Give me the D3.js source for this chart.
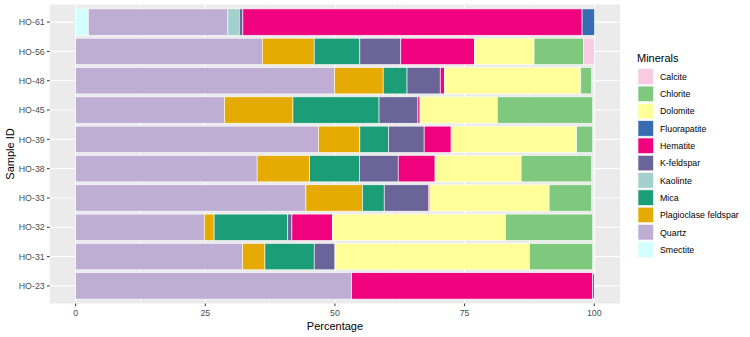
<!DOCTYPE html>
<html><head><meta charset="utf-8">
<script src="https://cdn.jsdelivr.net/npm/d3@7"></script>
<style>body{margin:0;background:#fff;}text{font-family:"Liberation Sans",Arial,sans-serif;}</style>
</head><body><svg id="c" width="750" height="337"></svg>
<script>
const samples = ["HO-61","HO-56","HO-48","HO-45","HO-39","HO-38","HO-33","HO-32","HO-31","HO-23"];
const minerals = ["Calcite","Chlorite","Dolomite","Fluorapatite","Hematite","K-feldspar","Kaolinte","Mica","Plagioclase feldspar","Quartz","Smectite"];
const colors = ["#F9CBE2","#7FC97F","#FFFF99","#386CB0","#F0027F","#6A6499","#A3CFCC","#1B9E77","#E6AB02","#BEAED4","#D2FFFF"];
// values per sample in order of minerals
const Calcite      = [0,   2.1, 0,   0,   0,   0,   0,   0,   0,   0];
const Chlorite     = [0,   9.5, 2.1, 18.4,3.1, 13.6,8.2, 16.8,12.2,0];
const Dolomite     = [0,   11.5,26.3,14.9,24.2,16.6,23.0,33.4,37.5,0];
const Fluorapatite = [2.4, 0,   0,   0,   0,   0,   0,   0,   0,   0.3];
const Hematite     = [65.4,14.2,0.8, 0.4, 5.2, 7.1, 0.3, 7.8, 0,   46.5];
const Kfeldspar    = [0.7, 7.9, 6.4, 7.5, 6.9, 7.5, 8.5, 0.8, 4.0, 0];
const Kaolinite    = [2.2, 0,   0,   0,   0,   0,   0,   0,   0,   0];
const Mica         = [0,   8.8, 4.6, 16.6,5.5, 9.6, 4.2, 14.2,9.5, 0];
const Plagioclase  = [0,   10.0,9.4, 13.2,8.0, 10.1,10.9,1.9, 4.3, 0];
const Quartz       = [26.9,36.0,49.9,28.7,46.8,35.0,44.4,24.8,32.2,53.2];
const Smectite     = [2.45,0,   0,   0,   0,   0,   0,   0,   0,   0];
const xTicks = [0,25,50,75,100];

const series = [Calcite,Chlorite,Dolomite,Fluorapatite,Hematite,Kfeldspar,Kaolinite,Mica,Plagioclase,Quartz,Smectite];
const rows = samples.map((s,i)=>{const o={sample:s}; minerals.forEach((m,j)=>o[m]=series[j][i]); return o;});
// ggplot stacks in reverse legend order from left
const stackKeys = minerals.slice().reverse();
const stacked = d3.stack().keys(stackKeys)(rows);
const color = d3.scaleOrdinal().domain(minerals).range(colors);

const svg = d3.select("#c");
const P = {l:49.7, r:620.2, t:4.5, b:303.5};
const x = d3.scaleLinear().domain([-5,105]).range([P.l,P.r]);
const y = d3.scaleBand().domain(samples).range([P.t,P.b]).paddingInner(0.1).paddingOuter(0.6*0.9/1+0.0);
// compute band so that expansion is 0.6 units: set manually via step
const step = (P.b-P.t)/(samples.length-1+1.2);
const yc = s => P.t + step*(0.6 + samples.indexOf(s));
const bw = step*0.9;

svg.append("rect").attr("x",P.l).attr("y",P.t).attr("width",P.r-P.l).attr("height",P.b-P.t).attr("fill","#EBEBEB");
// minor grid
[12.5,37.5,62.5,87.5].forEach(v=>svg.append("line").attr("x1",x(v)).attr("x2",x(v)).attr("y1",P.t).attr("y2",P.b).attr("stroke","#fff").attr("stroke-width",0.55));
xTicks.forEach(v=>svg.append("line").attr("x1",x(v)).attr("x2",x(v)).attr("y1",P.t).attr("y2",P.b).attr("stroke","#fff").attr("stroke-width",1.1));
samples.forEach(s=>svg.append("line").attr("x1",P.l).attr("x2",P.r).attr("y1",yc(s)).attr("y2",yc(s)).attr("stroke","#fff").attr("stroke-width",1.1));

svg.append("g").selectAll("g").data(stacked).join("g").attr("fill",d=>color(d.key))
  .selectAll("rect").data(d=>d.filter(e=>e[1]-e[0]>0)).join("rect")
  .attr("x",d=>x(d[0])).attr("width",d=>x(d[1])-x(d[0]))
  .attr("y",d=>yc(d.data.sample)-bw/2).attr("height",bw)
  .attr("stroke","#fff").attr("stroke-width",0.6);

// axes
const ax = svg.append("g");
xTicks.forEach(v=>{
  ax.append("line").attr("x1",x(v)).attr("x2",x(v)).attr("y1",P.b).attr("y2",P.b+2.7).attr("stroke","#333").attr("stroke-width",1);
  ax.append("text").attr("x",x(v)).attr("y",P.b+12.5).attr("text-anchor","middle").attr("font-size",8.8).attr("fill","#4D4D4D").text(v);
});
samples.forEach(s=>{
  ax.append("line").attr("x1",P.l-2.7).attr("x2",P.l).attr("y1",yc(s)).attr("y2",yc(s)).attr("stroke","#333").attr("stroke-width",1);
  ax.append("text").attr("x",P.l-5).attr("y",yc(s)+3.2).attr("text-anchor","end").attr("font-size",8.8).attr("fill","#4D4D4D").text(s);
});
svg.append("text").attr("x",(P.l+P.r)/2).attr("y",330).attr("text-anchor","middle").attr("font-size",11).attr("fill","#000").text("Percentage");
svg.append("text").attr("transform",`translate(14,${(P.t+P.b)/2}) rotate(-90)`).attr("text-anchor","middle").attr("font-size",11).attr("fill","#000").text("Sample ID");

// legend
const lg = svg.append("g");
lg.append("text").attr("x",637).attr("y",61.5).attr("font-size",11).attr("fill","#000").text("Minerals");
minerals.forEach((m,i)=>{
  const yy = 68.3 + i*17.3;
  lg.append("rect").attr("x",637.5).attr("y",yy).attr("width",16.5).attr("height",16.5).attr("fill","#F2F2F2");
  lg.append("rect").attr("x",638).attr("y",yy+0.5).attr("width",15.5).attr("height",15.5).attr("fill",color(m)).attr("stroke","#fff").attr("stroke-width",0.6);
  lg.append("text").attr("x",660).attr("y",yy+11.5).attr("font-size",8.8).attr("fill","#000").text(m);
});
</script></body></html>
